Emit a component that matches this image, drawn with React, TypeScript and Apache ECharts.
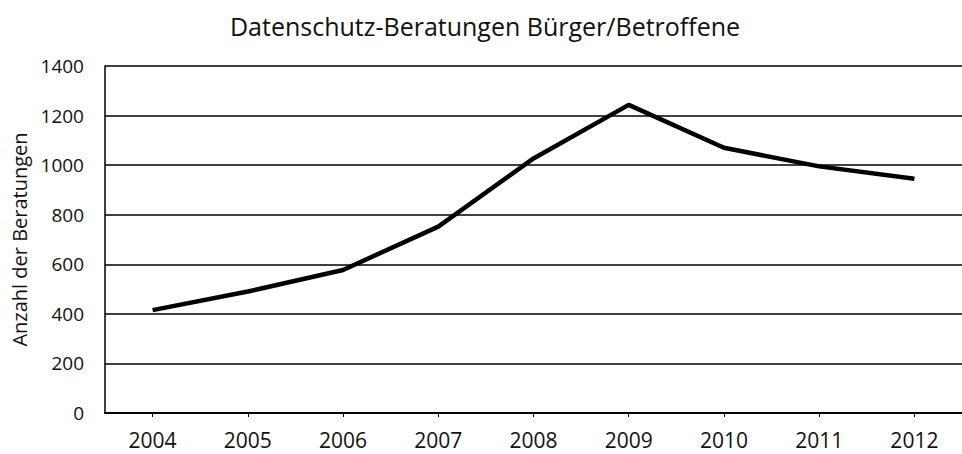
import React, { useEffect, useRef } from "react";
import * as echarts from "echarts";

const TITLE = "Datenschutz-Beratungen Bürger/Betroffene";
const Y_NAME = "Anzahl der Beratungen";
const years = ["2004", "2005", "2006", "2007", "2008", "2009", "2010", "2011", "2012"];
const beratungen = [415, 490, 577, 752, 1027, 1243, 1070, 995, 945];
const Y_MIN = 0;
const Y_MAX = 1400;
const Y_STEP = 200;

const FONT = "'Open Sans', sans-serif";

export default function App() {
  const ref = useRef<HTMLDivElement>(null);
  useEffect(() => {
    if (!ref.current) return;
    const chart = echarts.init(ref.current, undefined, { renderer: "svg" });
    chart.setOption({
      animation: false,
      backgroundColor: "#ffffff",
      title: {
        text: TITLE,
        left: 480,
        textAlign: "center",
        top: 8,
        textStyle: { fontFamily: FONT, fontSize: 25, fontWeight: "normal", color: "#111" },
      },
      grid: { left: 105, top: 66, bottom: 41, width: 870 },
      xAxis: {
        type: "category",
        data: years,
        boundaryGap: true,
        axisLine: { show: true, lineStyle: { color: "#000", width: 2 } },
        axisTick: { show: true, alignWithLabel: true, length: 4, lineStyle: { color: "#000", width: 1 } },
        axisLabel: { margin: 16, fontFamily: FONT, fontSize: 21, color: "#111" },
        splitLine: { show: false },
      },
      yAxis: {
        type: "value",
        min: Y_MIN,
        max: Y_MAX,
        interval: Y_STEP,
        name: Y_NAME,
        nameLocation: "middle",
        nameGap: 76,
        nameTextStyle: { fontFamily: FONT, fontSize: 20, color: "#111" },
        axisLine: { show: true, lineStyle: { color: "#000", width: 1.5 } },
        axisTick: { show: false },
        axisLabel: {
          margin: 21,
          fontFamily: FONT,
          fontSize: 19,
          color: "#111",
          formatter: (v: number) => String(v),
        },
        splitLine: { show: true, lineStyle: { color: "#000", width: 1.6 } },
      },
      series: [
        {
          type: "line",
          data: beratungen,
          symbol: "none",
          lineStyle: { color: "#000", width: 4.5 },
          itemStyle: { color: "#000" },
        },
      ],
    });
    return () => chart.dispose();
  }, []);
  return <div ref={ref} style={{ width: 962, height: 454, position: "fixed", left: 0, top: 0 }} />;
}
